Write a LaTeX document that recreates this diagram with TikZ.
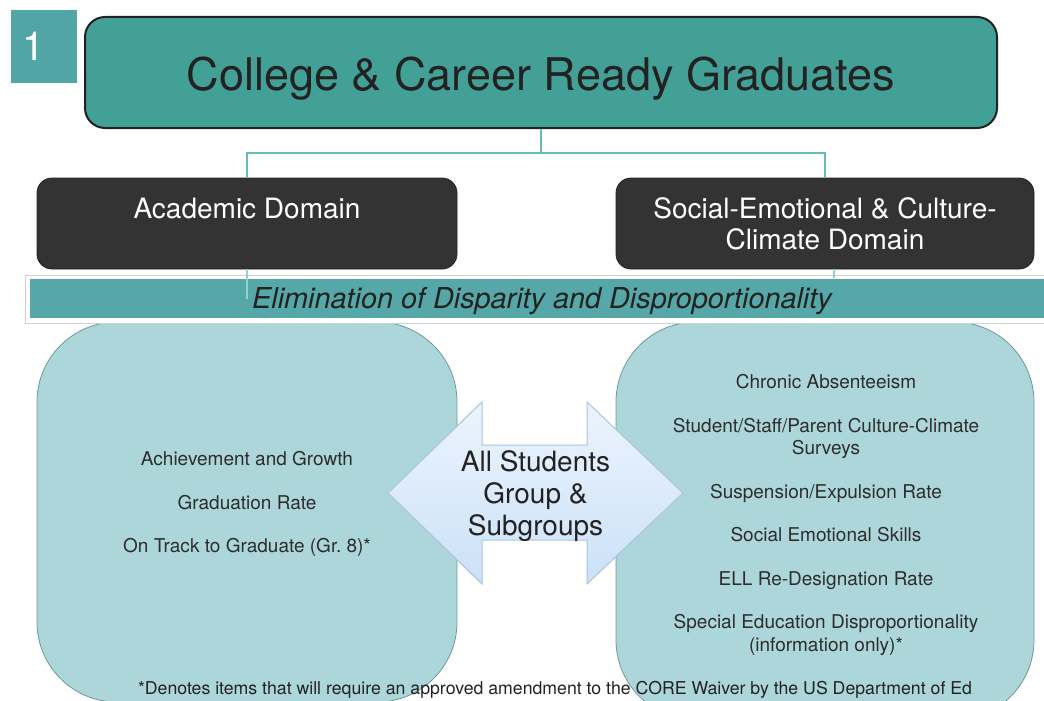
\documentclass[tikz,border=0pt]{standalone}
\usepackage{fontspec}
\setmainfont{TeX Gyre Heros}
\usepackage{tikz}
\usetikzlibrary{arrows.meta,positioning,calc}
\definecolor{numCol}{RGB}{82,165,165}
\definecolor{goalCol}{RGB}{67,160,150}
\definecolor{darkCol}{RGB}{51,51,51}
\definecolor{edgeCol}{RGB}{34,34,34}
\definecolor{bandCol}{RGB}{86,167,167}
\definecolor{listCol}{RGB}{172,214,217}
\definecolor{listEdge}{RGB}{110,152,156}
\definecolor{connCol}{RGB}{102,189,179}
\definecolor{arrowTop}{RGB}{236,244,253}
\definecolor{arrowBot}{RGB}{203,225,248}
\definecolor{arrowEdge}{RGB}{170,196,222}
\definecolor{textCol}{RGB}{34,34,34}
\tikzset{
  numbox/.style={fill=numCol,text=white,minimum height=73pt,text width=44pt,inner xsep=11pt,
                 align=left,font=\fontsize{40}{40}\selectfont},
  goal/.style={draw=edgeCol,line width=2pt,rounded corners=20pt,fill=goalCol,text=textCol,
               minimum width=912pt,minimum height=111pt,text height=44pt,text depth=9pt,
               font=\fontsize{45}{48}\selectfont},
  domainbox/.style={draw=edgeCol,thick,rounded corners=15pt,fill=darkCol,text=white,align=center,
                 minimum width=420pt,minimum height=91pt,font=\fontsize{28}{31}\selectfont},
  band/.style={fill=bandCol,minimum width=1024pt,minimum height=39pt,text=textCol,
               text height=26pt,text depth=7pt,font=\fontsize{28.8}{30}\selectfont\itshape},
  bandback/.style={fill=white,draw=black!18,line width=1pt},
  listbox/.style={draw=listEdge,thick,fill=listCol,rounded corners=80pt},
  items/.style={align=center,text=textCol!95,font=\fontsize{19}{22.5}\selectfont},
  conn/.style={draw=connCol,line width=1.5pt},
  bigarrow/.style={draw=arrowEdge,line width=1pt,top color=arrowTop,bottom color=arrowBot},
  note/.style={text=textCol,font=\fontsize{17.7}{20}\selectfont},
}
\begin{document}
\begin{tikzpicture}[x=1pt,y=-1pt]
  \path[use as bounding box,clip] (0,0) rectangle (1044,701);
  % header
  \node[numbox] (num) at (44,46.5) {1};
  \node[goal] (title) at (541,72.5) {College \& Career Ready Graduates};
  \node[domainbox] (acad) at (247,223.5) {Academic Domain\\ \mbox{}};
  \node[domainbox,minimum width=418pt] (soc) at (825,223.5) {Social-Emotional \& Culture-\\Climate Domain};
  \draw[conn] (title.south) -- ++(0,24) coordinate (split);
  \draw[conn] (split) -| (acad.north);
  \draw[conn] (split) -| (soc.north);
  % measure boxes
  \node[listbox,minimum width=420pt,minimum height=380pt] (acadbox) at (247,512) {};
  \node[listbox,minimum width=418pt,minimum height=398pt] (socbox) at (825,521) {};
  % banner
  \coordinate (bandmid) at (542,298.5);
  \path[bandback] ($(bandmid)+(-517,-23)$) rectangle ($(bandmid)+(520,25)$);
  \node[band] (elim) at (bandmid) {Elimination of Disparity and Disproportionality};
  \draw[conn,draw=connCol!70] (acad.south) -- (acad.south |- elim.center);
  \draw[conn,draw=connCol!70] ([xshift=9pt]soc.south) -- ([xshift=9pt]soc.south |- elim.north);
  % double arrow
  \draw[bigarrow,shift={(535.5,493)}] (-147.5,0) -- (-53.5,-91) -- (-53.5,-48) -- (51.5,-48)
    -- (51.5,-91) -- (147.5,0) -- (51.5,91) -- (51.5,47) -- (-53.5,47) -- (-53.5,91) -- cycle;
  \node[align=center,text=textCol,font=\fontsize{28}{32}\selectfont] (allstud) at (535.5,496)
    {All Students\\Group \&\\Subgroups};
  % measures
  \node[items] (acaditems) at (247,504) {Achievement and Growth\\[21pt]Graduation Rate\\[21pt]
    On Track to Graduate (Gr.~8)*};
  \node[items] (socitems) at (826,515) {Chronic Absenteeism\\[21pt]
    Student/Staff/Parent Culture-Climate\\Surveys\\[21pt]Suspension/Expulsion Rate\\[21pt]
    Social Emotional Skills\\[21pt]ELL Re-Designation Rate\\[21pt]
    Special Education Disproportionality\\(information only)*};
  \node[note] (foot) at (555,690)
    {*Denotes items that will require an approved amendment to the CORE Waiver by the US Department of Ed};
\end{tikzpicture}
\end{document}
